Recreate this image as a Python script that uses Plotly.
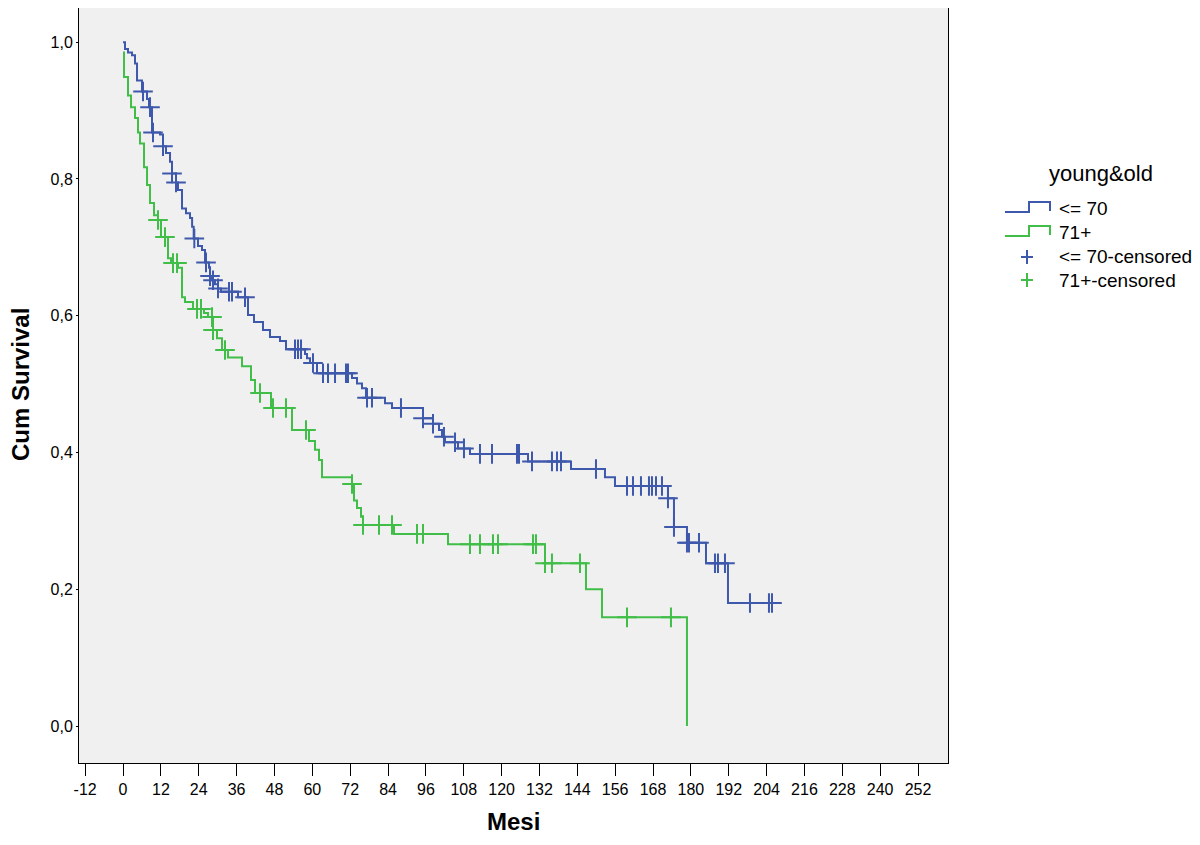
import numpy as np
import plotly.graph_objects as go

# ---------------- data ----------------
x_ticks = list(range(-12, 253, 12))
y_ticks = [0.0, 0.2, 0.4, 0.6, 0.8, 1.0]
y_ticktext = ["0,0", "0,2", "0,4", "0,6", "0,8", "1,0"]

group_names = ["<= 70", "71+"]

# <= 70 : event times (months) and survival after each event
young_start = 1.0
young_event_t = [0.63, 1.58, 2.85, 3.80, 4.44, 6.02, 7.61, 8.24, 9.19, 11.73, 12.68, 13.63,
                 14.90, 15.53, 16.80, 17.43, 18.70, 19.97, 21.24, 21.90, 22.40, 23.77, 25.04,
                 25.99, 27.26, 27.58, 28.21, 29.16, 30.11, 31.06, 36.45, 39.62, 41.52, 44.37,
                 46.59, 49.76, 51.66, 57.69, 58.32, 59.27, 61.49, 72.58, 74.17, 75.75, 77.02,
                 83.04, 85.26, 95.09, 98.26, 100.16, 101.11, 102.06, 106.18, 109.98, 128.37,
                 142.00, 152.77, 155.94, 172.74, 174.64, 178.76, 184.79, 191.76]
young_event_s = [0.990, 0.985, 0.981, 0.969, 0.944, 0.928, 0.917, 0.905, 0.868, 0.865, 0.848, 0.838,
                 0.825, 0.808, 0.795, 0.784, 0.757, 0.750, 0.743, 0.730, 0.713, 0.702, 0.696,
                 0.678, 0.670, 0.658, 0.652, 0.646, 0.640, 0.635, 0.627, 0.601, 0.591, 0.579,
                 0.569, 0.563, 0.551, 0.544, 0.538, 0.531, 0.516, 0.509, 0.501, 0.494, 0.480,
                 0.472, 0.465, 0.450, 0.442, 0.433, 0.423, 0.415, 0.406, 0.398, 0.387,
                 0.376, 0.364, 0.351, 0.333, 0.291, 0.268, 0.238, 0.180]
young_censor_t = [6.34, 8.56, 9.51, 12.68, 15.53, 16.80, 22.60, 26.31, 27.58, 28.53, 30.11, 33.60,
                  34.55, 38.67, 54.52, 55.47, 56.42, 60.22, 63.39, 64.98, 67.20, 70.68, 71.32,
                  77.34, 78.92, 88.11, 95.09, 98.26, 101.74, 105.23, 108.08, 113.15, 116.96,
                  124.88, 125.52, 129.64, 135.97, 137.56, 138.83, 149.92, 159.75, 161.65,
                  164.18, 166.72, 167.67, 168.94, 170.84, 172.74, 174.64, 178.76, 179.40,
                  182.57, 187.64, 188.59, 190.81, 198.73, 204.75, 205.71]
young_end_t = 205.71

# 71+ : event times (months) and survival after each event
old_start = 0.985
old_event_t = [0.32, 1.58, 2.54, 3.80, 4.75, 5.39, 6.66, 7.61, 8.56, 9.83, 11.09, 12.04, 14.26,
               15.21, 17.43, 18.70, 19.65, 22.19, 25.67, 26.94, 28.53, 29.79, 31.38, 33.28,
               37.72, 40.57, 41.84, 46.91, 53.57, 58.95, 60.86, 62.12, 63.07, 72.58, 73.22,
               74.17, 75.44, 76.07, 85.90, 103.01, 133.76, 146.75, 151.82, 178.76]
old_event_s = [0.949, 0.922, 0.905, 0.889, 0.868, 0.852, 0.817, 0.791, 0.765, 0.747, 0.740, 0.715,
               0.684, 0.677, 0.670, 0.627, 0.620, 0.610, 0.604, 0.598, 0.579, 0.567, 0.550, 0.539,
               0.526, 0.506, 0.487, 0.465, 0.433, 0.417, 0.404, 0.389, 0.364, 0.354, 0.330,
               0.319, 0.306, 0.294, 0.281, 0.266, 0.238, 0.200, 0.159, 0.0]
old_censor_t = [11.09, 13.31, 15.85, 17.12, 23.45, 24.72, 28.21, 28.53, 32.33, 43.42, 47.54,
                51.66, 58.00, 72.58, 76.07, 81.14, 85.26, 93.19, 95.09, 109.98, 113.15, 117.27,
                118.86, 129.95, 130.90, 133.76, 135.97, 144.85, 159.75, 173.69]
old_end_t = 178.76

# ---------------- styling ----------------
BLUE = "rgb(62,88,172)"
GREEN = "rgb(64,190,72)"
FONT = "Liberation Sans, Arial, sans-serif"

OFF = 8  # page body margin in the browser
W, H = 1200 - OFF, 845 - OFF
# target plot area in page pixels: x 79..948, y 8..763
L = 79 - OFF
T = 8 - OFF
R = W - (948 - OFF)
B = H - (763 - OFF)
PW, PH = W - L - R, H - T - B


def px(x):  # page pixel -> paper x
    return (x - OFF - L) / PW


def py(y):  # page pixel -> paper y
    return (H - B - (y - OFF)) / PH


def level_at(times, levels, start, t):
    idx = np.searchsorted(np.array(times), t, side="right") - 1
    return start if idx < 0 else levels[idx]


def step_xy(start, times, levels, end_t):
    xs = [0.0] + list(times)
    ys = [start] + list(levels)
    if end_t > xs[-1]:
        xs.append(end_t)
        ys.append(ys[-1])
    return xs, ys


fig = go.Figure()

for start, et, es, ct, end_t, col, name in [
    (young_start, young_event_t, young_event_s, young_censor_t, young_end_t, BLUE, group_names[0]),
    (old_start, old_event_t, old_event_s, old_censor_t, old_end_t, GREEN, group_names[1]),
]:
    xs, ys = step_xy(start, et, es, end_t)
    fig.add_trace(go.Scatter(x=xs, y=ys, mode="lines", line=dict(color=col, width=2, shape="hv"),
                             name=name, showlegend=False, hoverinfo="skip", cliponaxis=False))
    cy = [level_at(et, es, start, t) for t in ct]
    fig.add_trace(go.Scatter(x=ct, y=cy, mode="markers",
                             marker=dict(symbol="cross-thin", size=14, color=col,
                                         line=dict(color=col, width=2)),
                             name=name + "-censored", showlegend=False, hoverinfo="skip"))

fig.update_layout(
    width=W, height=H,
    margin=dict(l=L, r=R, t=T, b=B, pad=0, autoexpand=False),
    paper_bgcolor="white",
    plot_bgcolor="#F0F0F0",
    font=dict(family=FONT, size=16, color="black"),
    showlegend=False,
)
fig.update_xaxes(range=[-13.95, 261.5], tickvals=x_ticks, ticktext=[str(v) for v in x_ticks],
                 showgrid=False, zeroline=False, showline=True, linecolor="black", linewidth=1,
                 mirror=True, ticks="outside", ticklen=12, tickcolor="black", tickwidth=1,
                 tickfont=dict(size=16, family=FONT), automargin=False)
fig.update_yaxes(range=[-0.054, 1.05], tickvals=y_ticks, ticktext=y_ticktext,
                 showgrid=False, zeroline=False, showline=True, linecolor="black", linewidth=1,
                 mirror=True, ticks="outside", ticklen=2, tickcolor="black", tickwidth=1,
                 tickfont=dict(size=16, family=FONT), automargin=False)

annotations = [
    dict(text="<b>Mesi</b>", x=px(513), y=py(822), xref="paper", yref="paper",
         showarrow=False, font=dict(size=24, family=FONT), xanchor="center", yanchor="middle"),
    dict(text="<b>Cum Survival</b>", x=px(20), y=py(385), xref="paper", yref="paper",
         showarrow=False, textangle=-90, font=dict(size=24, family=FONT),
         xanchor="center", yanchor="middle"),
    dict(text="young&old", x=px(1101), y=py(173), xref="paper", yref="paper",
         showarrow=False, font=dict(size=22, family=FONT), xanchor="center", yanchor="middle"),
]
legend_rows = [
    (group_names[0], 208), (group_names[1], 233),
    (group_names[0] + "-censored", 257), (group_names[1] + "-censored", 280),
]
for txt, yy in legend_rows:
    annotations.append(dict(text=txt, x=px(1057), y=py(yy), xref="paper", yref="paper",
                            showarrow=False, font=dict(size=19, family=FONT),
                            xanchor="left", yanchor="middle"))

shapes = []
for col, yb in [(BLUE, 212), (GREEN, 236)]:
    ytop = yb - 10
    path = (f"M {px(1005)},{py(yb)} L {px(1029)},{py(yb)} L {px(1029)},{py(ytop)} "
            f"L {px(1050)},{py(ytop)} L {px(1050)},{py(yb - 1)}")
    shapes.append(dict(type="path", path=path, xref="paper", yref="paper",
                       line=dict(color=col, width=2)))
for col, yc in [(BLUE, 257), (GREEN, 280)]:
    shapes.append(dict(type="line", xref="paper", yref="paper", x0=px(1021), x1=px(1033),
                       y0=py(yc), y1=py(yc), line=dict(color=col, width=2)))
    shapes.append(dict(type="line", xref="paper", yref="paper", x0=px(1027), x1=px(1027),
                       y0=py(yc - 7), y1=py(yc + 7), line=dict(color=col, width=2)))

fig.update_layout(annotations=annotations, shapes=shapes)

fig.write_html("out.html")
